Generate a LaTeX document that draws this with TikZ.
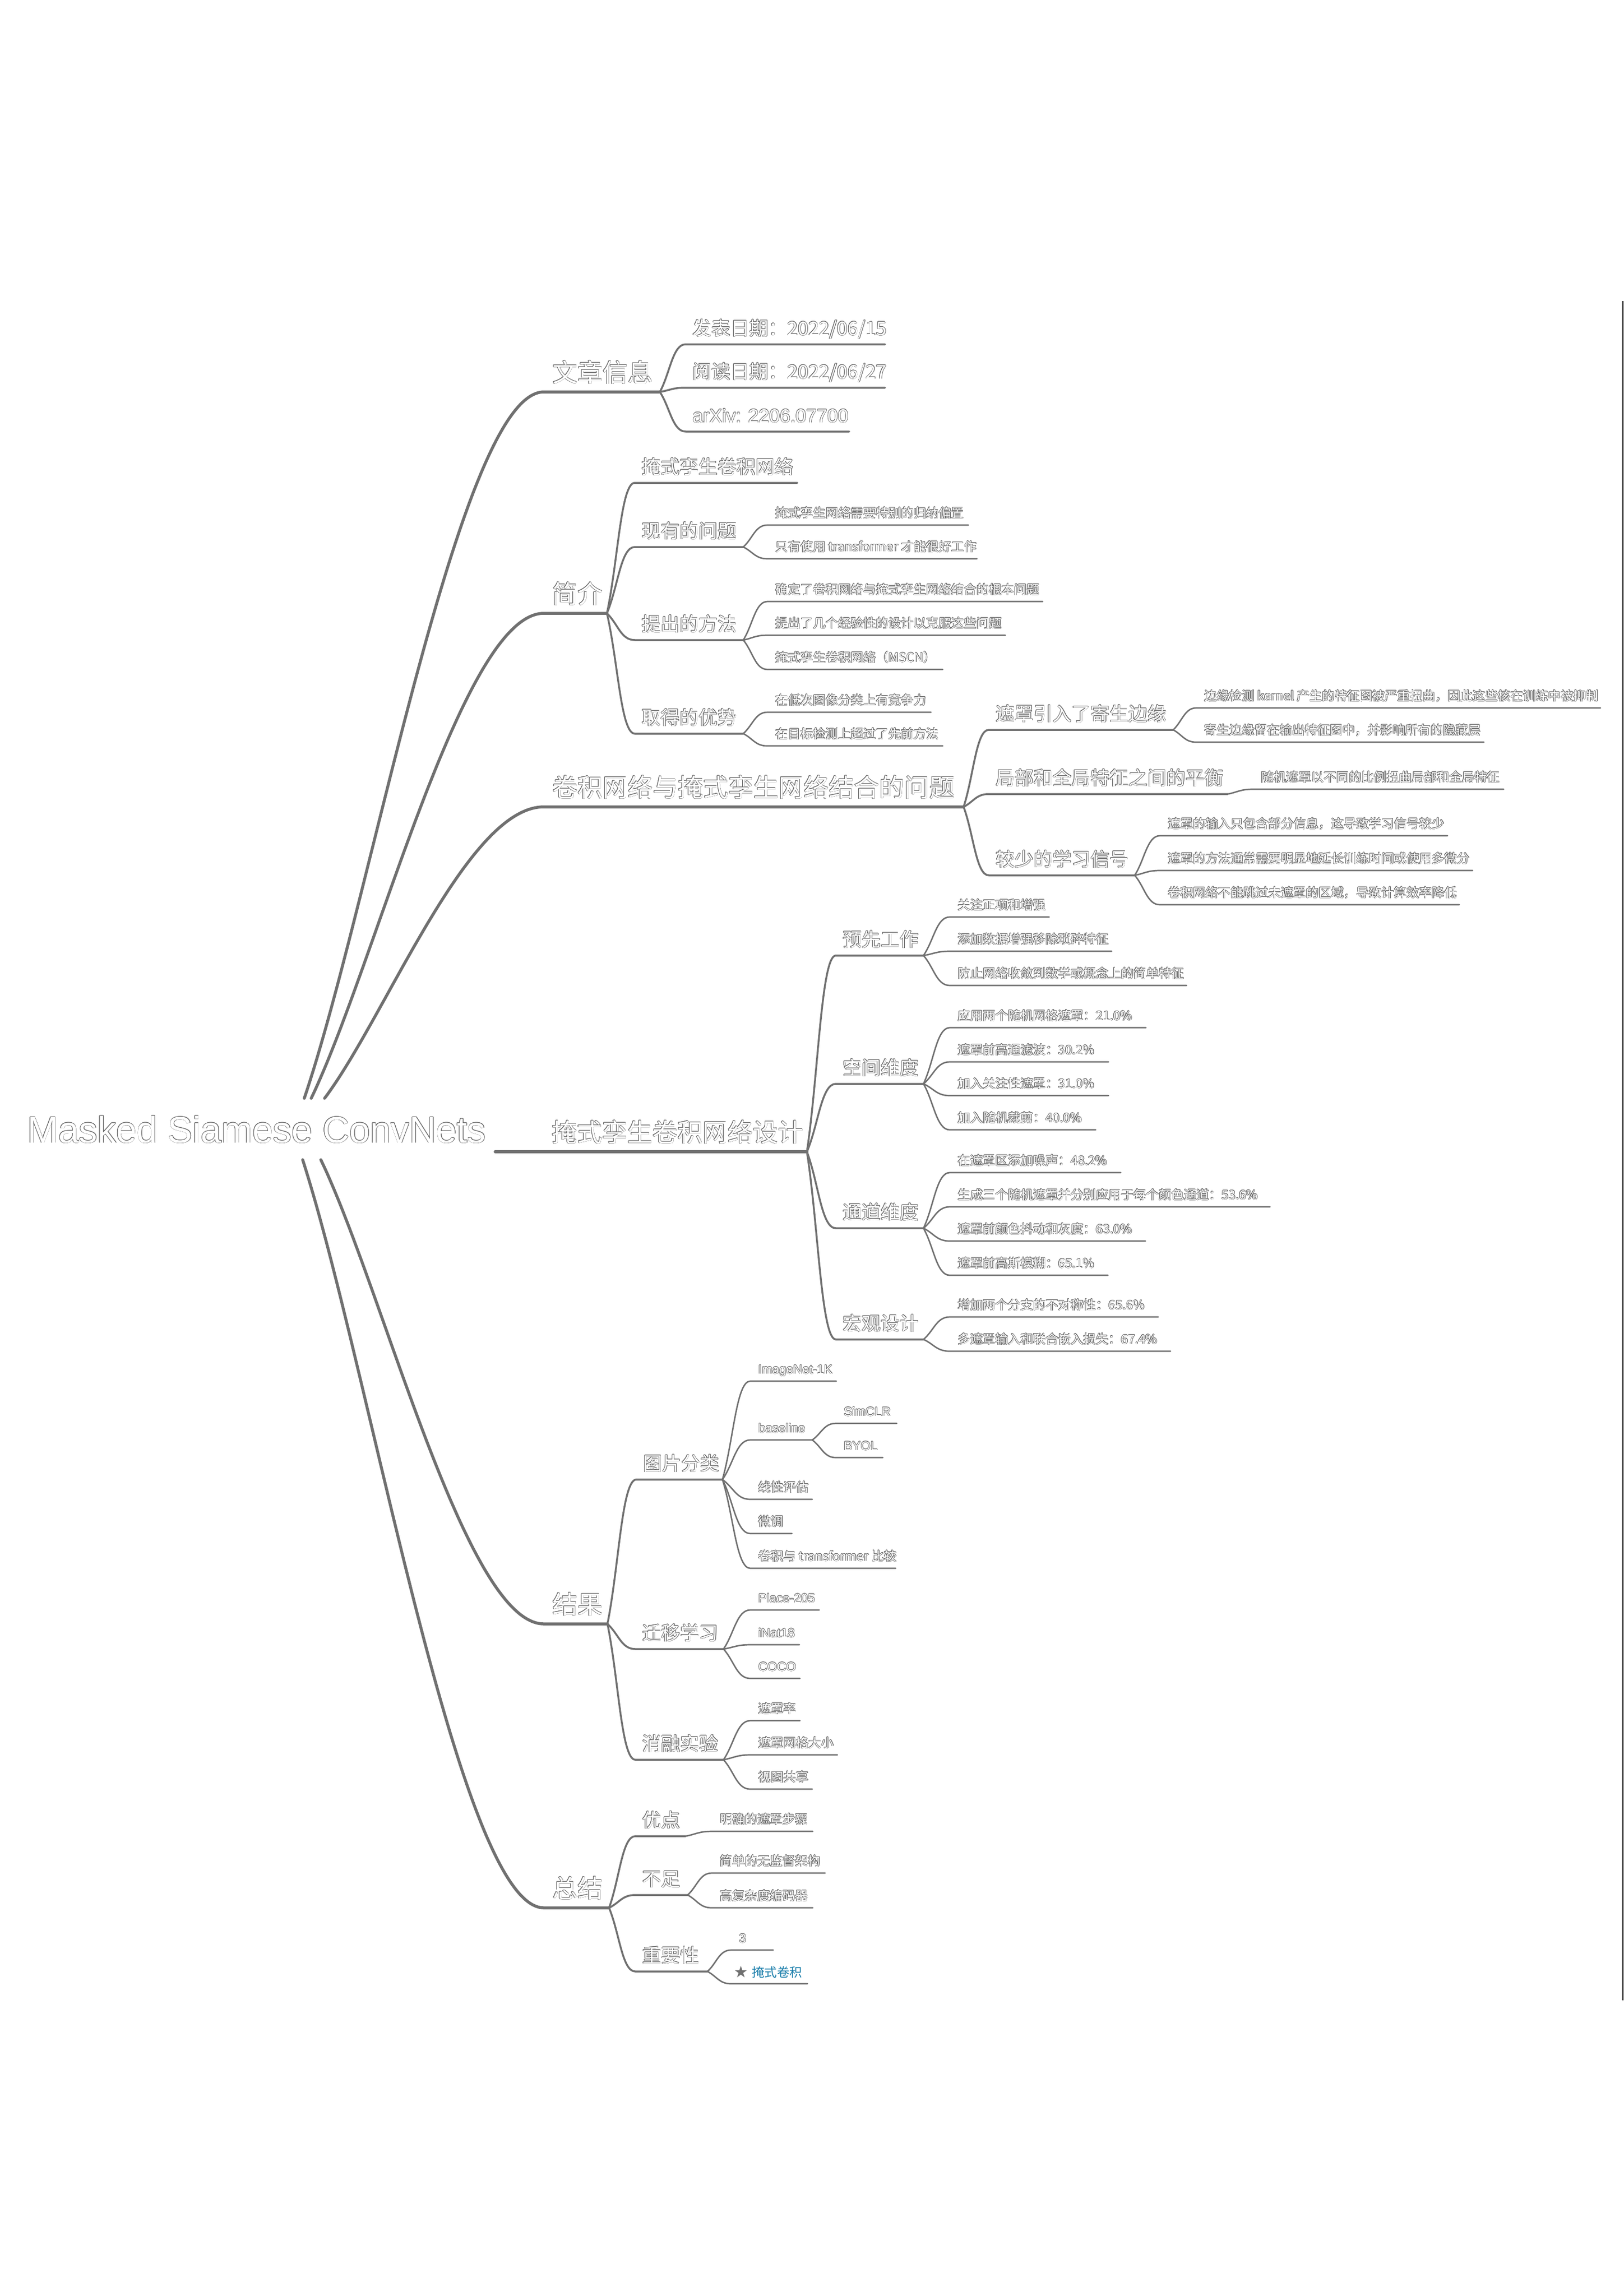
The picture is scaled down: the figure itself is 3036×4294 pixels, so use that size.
\documentclass[tikz,border=0pt]{standalone}
\usepackage{fontspec}
\setmainfont{Noto Sans CJK SC}
\newfontfamily\lat{Liberation Sans}
\newfontfamily\sym{DejaVu Sans}
\usetikzlibrary{calc}
\definecolor{lc}{RGB}{112,112,112}
\definecolor{oc}{RGB}{95,95,95}
\definecolor{linkblue}{RGB}{25,125,170}
\newlength\ow \setlength\ow{0.75pt}
\newlength\owd \setlength\owd{0.53pt}
% outlined text: grey contour, white interior
\newcommand\olt[1]{\begingroup\setbox0=\hbox{#1}%
 \rlap{\color{oc}\kern\ow\copy0}%
 \rlap{\color{oc}\kern-\ow\copy0}%
 \rlap{\color{oc}\raise\ow\copy0}%
 \rlap{\color{oc}\lower\ow\copy0}%
 \rlap{\color{oc}\kern\owd\raise\owd\copy0}%
 \rlap{\color{oc}\kern-\owd\raise\owd\copy0}%
 \rlap{\color{oc}\kern\owd\lower\owd\copy0}%
 \rlap{\color{oc}\kern-\owd\lower\owd\copy0}%
 {\color{white}\copy0}\endgroup}
\tikzset{
 basetxt/.style={anchor=base west, inner sep=0pt},
 t0/.style={basetxt, xshift=16pt, yshift=19pt, font=\fontsize{47pt}{47pt}\selectfont},
 t1/.style={basetxt, xshift=13pt, yshift=17pt, font=\fontsize{35.5pt}{35.5pt}\selectfont},
 t1l/.style={basetxt, xshift=13pt, yshift=17pt, font=\lat\fontsize{35.5pt}{35.5pt}\selectfont},
 t2/.style={basetxt, xshift=15pt, yshift=14pt, font=\fontsize{23.5pt}{23.5pt}\selectfont},
 t2l/.style={basetxt, xshift=15pt, yshift=14pt, font=\lat\fontsize{23.5pt}{23.5pt}\selectfont},
 line0/.style={draw=lc, line width=5.5pt, line cap=round, line join=round},
 line1/.style={draw=lc, line width=3.5pt, line cap=round, line join=round},
 line2/.style={draw=lc, line width=2.7pt, line cap=round, line join=round},
}
% topic: name, style, x start, y of underline, x end, text
\newcommand\tp[6]{\coordinate (#1-s) at (#3,#4);\coordinate (#1-e) at (#5,#4);\node[#2] (#1) at (#1-s) {\olt{#6}};}
% connector from parent branch point to child underline
\newcommand\cn[3]{\draw[#1] (#2-e) .. controls ($(#2-e)!0.4!(#3-s)$) and ($(#3-s)!0.5!(#3-s -| #2-e)$) .. (#3-s) -- (#3-e);}
% root connector
\newcommand\rc[2]{\draw[line0] (#1) .. controls ($(#1)!0.28!(#2-s)$) and ($(#2-s)!0.35!(#2-s -| #1)$) .. (#2-s) -- (#2-e);}
\begin{document}
\begin{tikzpicture}[x=1pt,y=-1pt]
\useasboundingbox (0,0) rectangle (3036,4294);
\fill[white] (0,0) rectangle (3036,4294);

% ---------- root ----------
\node[basetxt, font=\lat\fontsize{69.5pt}{69.5pt}\selectfont] (root) at (51,2137) {\olt{Masked Siamese ConvNets}};
\coordinate (rt1) at (569,2054);
\coordinate (rt2) at (582,2054);
\coordinate (rt3) at (607,2054);
\coordinate (rb1) at (566,2169);
\coordinate (rb2) at (600,2169);
\coordinate (rr) at (926,2154);

% ---------- level 1 ----------
\tp{info}{t0}{1017}{733}{1234}{文章信息}
\tp{intro}{t0}{1017}{1147}{1135}{简介}
\tp{prob}{t0}{1017}{1509}{1802}{卷积网络与掩式孪生网络结合的问题}
\tp{design}{t0}{1016}{2154}{1509}{掩式孪生卷积网络设计}
\tp{res}{t0}{1017}{3037}{1136}{结果}
\tp{sum}{t0}{1017}{3568}{1139}{总结}

\rc{rt1}{info}
\rc{rt2}{intro}
\rc{rt3}{prob}
\rc{rb2}{res}
\rc{rb1}{sum}
\draw[line0] (rr) -- (design-s) -- (design-e);

% ---------- 文章信息 ----------
\tp{d1}{t1}{1282}{644}{1655}{发表日期：2022/06/15}
\tp{d2}{t1}{1282}{725}{1655}{阅读日期：2022/06/27}
\tp{d3}{t1l}{1282}{807}{1588}{arXiv: 2206.07700}
\cn{line1}{info}{d1}
\cn{line1}{info}{d2}
\cn{line1}{info}{d3}

% ---------- 简介 ----------
\tp{i1}{t1}{1187}{903}{1491}{掩式孪生卷积网络}
\tp{i2}{t1}{1187}{1023}{1390}{现有的问题}
\tp{i3}{t1}{1187}{1197}{1390}{提出的方法}
\tp{i4}{t1}{1187}{1372}{1390}{取得的优势}
\cn{line1}{intro}{i1}
\cn{line1}{intro}{i2}
\cn{line1}{intro}{i3}
\cn{line1}{intro}{i4}
\tp{i21}{t2}{1435}{982}{1811}{掩式孪生网络需要特别的归纳偏置}
\tp{i22}{t2}{1435}{1045}{1827}{只有使用 transformer 才能很好工作}
\cn{line2}{i2}{i21}
\cn{line2}{i2}{i22}
\tp{i31}{t2}{1435}{1125}{1950}{确定了卷积网络与掩式孪生网络结合的根本问题}
\tp{i32}{t2}{1435}{1188}{1880}{提出了几个经验性的设计以克服这些问题}
\tp{i33}{t2}{1435}{1252}{1763}{掩式孪生卷积网络（MSCN）}
\cn{line2}{i3}{i31}
\cn{line2}{i3}{i32}
\cn{line2}{i3}{i33}
\tp{i41}{t2}{1435}{1332}{1741}{在低次图像分类上有竞争力}
\tp{i42}{t2}{1435}{1395}{1763}{在目标检测上超过了先前方法}
\cn{line2}{i4}{i41}
\cn{line2}{i4}{i42}

% ---------- 卷积网络与掩式孪生网络结合的问题 ----------
\tp{p1}{t1}{1849}{1365}{2194}{遮罩引入了寄生边缘}
\tp{p2}{t1}{1849}{1485}{2296}{局部和全局特征之间的平衡}
\tp{p3}{t1}{1849}{1637}{2122}{较少的学习信号}
\cn{line1}{prob}{p1}
\cn{line1}{prob}{p2}
\cn{line1}{prob}{p3}
\tp{p11}{t2}{2237}{1324}{2993}{边缘检测 kernel 产生的特征图被严重扭曲，因此这些核在训练中被抑制}
\tp{p12}{t2}{2237}{1388}{2775}{寄生边缘留在输出特征图中，并影响所有的隐藏层}
\cn{line2}{p1}{p11}
\cn{line2}{p1}{p12}
\tp{p21}{t2}{2343}{1476}{2812}{随机遮罩以不同的比例扭曲局部和全局特征}
\cn{line2}{p2}{p21}
\tp{p31}{t2}{2169}{1563}{2707}{遮罩的输入只包含部分信息，这导致学习信号较少}
\tp{p32}{t2}{2169}{1628}{2754}{遮罩的方法通常需要明显地延长训练时间或使用多微分}
\tp{p33}{t2}{2169}{1692}{2729}{卷积网络不能跳过未遮罩的区域，导致计算效率降低}
\cn{line2}{p3}{p31}
\cn{line2}{p3}{p32}
\cn{line2}{p3}{p33}

% ---------- 掩式孪生卷积网络设计 ----------
\tp{g1}{t1}{1563}{1787}{1727}{预先工作}
\tp{g2}{t1}{1563}{2027}{1727}{空间维度}
\tp{g3}{t1}{1563}{2297}{1727}{通道维度}
\tp{g4}{t1}{1563}{2505}{1727}{宏观设计}
\cn{line1}{design}{g1}
\cn{line1}{design}{g2}
\cn{line1}{design}{g3}
\cn{line1}{design}{g4}
\tp{g11}{t2}{1776}{1715}{1962}{关注正项和增强}
\tp{g12}{t2}{1776}{1779}{2079}{添加数据增强移除琐碎特征}
\tp{g13}{t2}{1776}{1843}{2219}{防止网络收敛到数学或概念上的简单特征}
\cn{line2}{g1}{g11}
\cn{line2}{g1}{g12}
\cn{line2}{g1}{g13}
\tp{g21}{t2}{1776}{1922}{2143}{应用两个随机网格遮罩：21.0\%}
\tp{g22}{t2}{1776}{1986}{2073}{遮罩前高通滤波：30.2\%}
\tp{g23}{t2}{1776}{2049}{2073}{加入关注性遮罩：31.0\%}
\tp{g24}{t2}{1776}{2113}{2049}{加入随机裁剪：40.0\%}
\cn{line2}{g2}{g21}
\cn{line2}{g2}{g22}
\cn{line2}{g2}{g23}
\cn{line2}{g2}{g24}
\tp{g31}{t2}{1776}{2193}{2096}{在遮罩区添加噪声：48.2\%}
\tp{g32}{t2}{1776}{2257}{2375}{生成三个随机遮罩并分别应用于每个颜色通道：53.6\%}
\tp{g33}{t2}{1776}{2321}{2142}{遮罩前颜色抖动和灰度：63.0\%}
\tp{g34}{t2}{1776}{2385}{2072}{遮罩前高斯模糊：65.1\%}
\cn{line2}{g3}{g31}
\cn{line2}{g3}{g32}
\cn{line2}{g3}{g33}
\cn{line2}{g3}{g34}
\tp{g41}{t2}{1776}{2463}{2166}{增加两个分支的不对称性：65.6\%}
\tp{g42}{t2}{1776}{2527}{2189}{多遮罩输入和联合嵌入损失：67.4\%}
\cn{line2}{g4}{g41}
\cn{line2}{g4}{g42}

% ---------- 结果 ----------
\tp{r1}{t1}{1190}{2767}{1351}{图片分类}
\tp{r2}{t1}{1188}{3084}{1353}{迁移学习}
\tp{r3}{t1}{1188}{3291}{1353}{消融实验}
\cn{line1}{res}{r1}
\cn{line1}{res}{r2}
\cn{line1}{res}{r3}
\tp{r11}{t2l}{1403}{2583}{1564}{ImageNet-1K}
\tp{r12}{t2l}{1403}{2693}{1519}{baseline}
\tp{r13}{t2}{1403}{2804}{1519}{线性评估}
\tp{r14}{t2}{1403}{2868}{1481}{微调}
\tp{r15}{t2}{1403}{2933}{1675}{卷积与 transformer 比较}
\cn{line2}{r1}{r11}
\cn{line2}{r1}{r12}
\cn{line2}{r1}{r13}
\cn{line2}{r1}{r14}
\cn{line2}{r1}{r15}
\tp{r121}{t2l}{1563}{2662}{1677}{SimCLR}
\tp{r122}{t2l}{1563}{2726}{1651}{BYOL}
\cn{line2}{r12}{r121}
\cn{line2}{r12}{r122}
\tp{r21}{t2l}{1403}{3011}{1532}{Place-205}
\tp{r22}{t2l}{1403}{3076}{1495}{iNat18}
\tp{r23}{t2l}{1403}{3139}{1496}{COCO}
\cn{line2}{r2}{r21}
\cn{line2}{r2}{r22}
\cn{line2}{r2}{r23}
\tp{r31}{t2}{1403}{3218}{1496}{遮罩率}
\tp{r32}{t2}{1403}{3282}{1566}{遮罩网格大小}
\tp{r33}{t2}{1403}{3346}{1519}{视图共享}
\cn{line2}{r3}{r31}
\cn{line2}{r3}{r32}
\cn{line2}{r3}{r33}

% ---------- 总结 ----------
\tp{s1}{t1}{1188}{3434}{1282}{优点}
\tp{s2}{t1}{1188}{3544}{1286}{不足}
\tp{s3}{t1}{1188}{3687}{1323}{重要性}
\cn{line1}{sum}{s1}
\cn{line1}{sum}{s2}
\cn{line1}{sum}{s3}
\tp{s11}{t2}{1331}{3425}{1520}{明确的遮罩步骤}
\cn{line2}{s1}{s11}
\tp{s21}{t2}{1331}{3503}{1543}{简单的无监督架构}
\tp{s22}{t2}{1331}{3568}{1520}{高复杂度编码器}
\cn{line2}{s2}{s21}
\cn{line2}{s2}{s22}
\tp{s31}{t2l}{1367}{3647}{1446}{3}
\coordinate (s32-s) at (1367,3710);
\coordinate (s32-e) at (1510,3710);
\node[inner sep=0pt, text=lc, font=\sym\fontsize{30pt}{30pt}\selectfont] (star) at (1386,3688) {★};
\node[anchor=base west, inner sep=0pt, text=linkblue, font=\fontsize{23.5pt}{23.5pt}\selectfont] (s32) at (1406,3697) {掩式卷积};
\cn{line2}{s3}{s31}
\cn{line2}{s3}{s32}

% ---------- page edge line ----------
\coordinate (edgeT) at (3035,563);
\coordinate (edgeB) at (3035,3741);
\draw[black, line width=1.3pt] (edgeT) -- (edgeB);
\end{tikzpicture}
\end{document}
